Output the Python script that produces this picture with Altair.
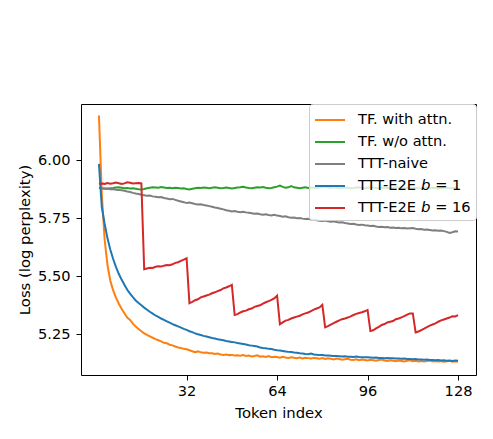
import altair as alt
import pandas as pd

tokens = list(range(1, 129))

names = ['TF. with attn.', 'TF. w/o attn.', 'TTT-naive', 'TTT-E2E 𝘣 = 1', 'TTT-E2E 𝘣 = 16']
colors = ['#ff7f0e', '#2ca02c', '#7f7f7f', '#1f77b4', '#d62728']

tf_attn = [
    6.194, 5.855, 5.660, 5.550, 5.482, 5.440, 5.408, 5.383, 5.360, 5.341,
    5.322, 5.312, 5.296, 5.283, 5.273, 5.263, 5.254, 5.247, 5.241, 5.235,
    5.229, 5.224, 5.219, 5.213, 5.211, 5.205, 5.202, 5.197, 5.193, 5.191,
    5.187, 5.185, 5.181, 5.177, 5.173, 5.176, 5.172, 5.170, 5.171, 5.168,
    5.168, 5.165, 5.167, 5.163, 5.161, 5.163, 5.160, 5.161, 5.158, 5.159,
    5.157, 5.160, 5.156, 5.158, 5.154, 5.156, 5.159, 5.153, 5.155, 5.152,
    5.156, 5.151, 5.153, 5.152, 5.149, 5.153, 5.150, 5.148, 5.151, 5.149,
    5.147, 5.150, 5.146, 5.149, 5.147, 5.145, 5.148, 5.146, 5.144, 5.147,
    5.143, 5.146, 5.144, 5.141, 5.145, 5.143, 5.140, 5.142, 5.144, 5.140,
    5.139, 5.142, 5.138, 5.141, 5.139, 5.137, 5.140, 5.138, 5.136, 5.139,
    5.141, 5.137, 5.135, 5.138, 5.136, 5.134, 5.137, 5.135, 5.133, 5.136,
    5.138, 5.134, 5.136, 5.133, 5.135, 5.132, 5.134, 5.137, 5.133, 5.135,
    5.132, 5.134, 5.131, 5.133, 5.135, 5.131, 5.133, 5.132,
]

tf_no_attn = [
    5.882, 5.880, 5.879, 5.878, 5.880, 5.881, 5.883, 5.884, 5.882, 5.880,
    5.881, 5.879, 5.880, 5.878, 5.876, 5.875, 5.877, 5.880, 5.882, 5.884,
    5.883, 5.882, 5.885, 5.883, 5.881, 5.882, 5.880, 5.882, 5.881, 5.879,
    5.880, 5.877, 5.875, 5.878, 5.880, 5.882, 5.881, 5.883, 5.882, 5.880,
    5.882, 5.884, 5.882, 5.880, 5.881, 5.883, 5.881, 5.879, 5.881, 5.883,
    5.884, 5.886, 5.883, 5.881, 5.880, 5.882, 5.884, 5.883, 5.885, 5.882,
    5.880, 5.881, 5.884, 5.887, 5.892, 5.886, 5.882, 5.884, 5.889, 5.884,
    5.882, 5.880, 5.882, 5.884, 5.881, 5.883, 5.882, 5.880, 5.883, 5.885,
    5.886, 5.883, 5.881, 5.884, 5.882, 5.880, 5.881, 5.883, 5.882, 5.880,
    5.881, 5.883, 5.884, 5.882, 5.880, 5.882, 5.884, 5.883, 5.881, 5.880,
    5.882, 5.883, 5.881, 5.879, 5.882, 5.884, 5.883, 5.881, 5.880, 5.882,
    5.883, 5.881, 5.882, 5.880, 5.881, 5.883, 5.882, 5.880, 5.882, 5.881,
    5.879, 5.881, 5.883, 5.882, 5.880, 5.881, 5.882, 5.881,
]

ttt_naive = [
    5.881, 5.880, 5.878, 5.879, 5.876, 5.877, 5.874, 5.873, 5.871, 5.869,
    5.866, 5.864, 5.860, 5.857, 5.855, 5.852, 5.850, 5.848, 5.849, 5.845,
    5.843, 5.841, 5.842, 5.838, 5.836, 5.833, 5.834, 5.830, 5.826, 5.823,
    5.820, 5.816, 5.818, 5.815, 5.812, 5.810, 5.811, 5.808, 5.806, 5.803,
    5.800, 5.797, 5.795, 5.792, 5.789, 5.785, 5.783, 5.780, 5.782, 5.779,
    5.777, 5.779, 5.776, 5.774, 5.772, 5.770, 5.771, 5.768, 5.766, 5.768,
    5.765, 5.763, 5.766, 5.762, 5.760, 5.757, 5.759, 5.755, 5.753, 5.754,
    5.751, 5.752, 5.749, 5.747, 5.748, 5.745, 5.744, 5.742, 5.740, 5.739,
    5.741, 5.738, 5.736, 5.737, 5.734, 5.732, 5.733, 5.730, 5.728, 5.726,
    5.727, 5.724, 5.722, 5.723, 5.720, 5.719, 5.717, 5.718, 5.715, 5.713,
    5.714, 5.712, 5.713, 5.710, 5.711, 5.709, 5.710, 5.707, 5.708, 5.706,
    5.707, 5.708, 5.705, 5.703, 5.704, 5.701, 5.702, 5.700, 5.698, 5.699,
    5.697, 5.698, 5.695, 5.692, 5.687, 5.690, 5.694, 5.693,
]

e2e_b1 = [
    5.985, 5.800, 5.727, 5.665, 5.616, 5.576, 5.541, 5.511, 5.486, 5.464,
    5.442, 5.425, 5.410, 5.396, 5.385, 5.375, 5.365, 5.356, 5.347, 5.339,
    5.331, 5.325, 5.318, 5.312, 5.306, 5.300, 5.294, 5.289, 5.284, 5.279,
    5.273, 5.269, 5.263, 5.259, 5.254, 5.250, 5.247, 5.243, 5.240, 5.237,
    5.234, 5.232, 5.228, 5.226, 5.224, 5.221, 5.219, 5.217, 5.215, 5.212,
    5.210, 5.208, 5.206, 5.203, 5.201, 5.199, 5.197, 5.193, 5.191, 5.190,
    5.187, 5.186, 5.183, 5.181, 5.180, 5.178, 5.176, 5.174, 5.173, 5.171,
    5.170, 5.168, 5.167, 5.165, 5.164, 5.167, 5.163, 5.162, 5.160, 5.160,
    5.158, 5.158, 5.157, 5.156, 5.156, 5.155, 5.154, 5.155, 5.153, 5.153,
    5.152, 5.154, 5.152, 5.151, 5.151, 5.151, 5.150, 5.149, 5.150, 5.148,
    5.148, 5.147, 5.148, 5.146, 5.146, 5.145, 5.145, 5.144, 5.145, 5.143,
    5.143, 5.142, 5.143, 5.141, 5.141, 5.140, 5.141, 5.139, 5.139, 5.138,
    5.139, 5.137, 5.138, 5.136, 5.137, 5.135, 5.137, 5.136,
]

e2e_b16 = [
    5.899, 5.901, 5.899, 5.903, 5.900, 5.902, 5.905, 5.902, 5.899, 5.901,
    5.906, 5.904, 5.901, 5.902, 5.903, 5.901,
    5.531, 5.534, 5.537, 5.536, 5.541, 5.543, 5.542, 5.546, 5.549, 5.548,
    5.552, 5.558, 5.561, 5.567, 5.572, 5.578,
    5.384, 5.390, 5.397, 5.401, 5.409, 5.413, 5.417, 5.421, 5.427, 5.431,
    5.436, 5.441, 5.448, 5.452, 5.457, 5.463,
    5.333, 5.337, 5.344, 5.349, 5.352, 5.358, 5.361, 5.368, 5.372, 5.375,
    5.382, 5.388, 5.393, 5.398, 5.405, 5.417,
    5.293, 5.301, 5.309, 5.312, 5.318, 5.322, 5.326, 5.330, 5.336, 5.340,
    5.344, 5.350, 5.356, 5.361, 5.366, 5.377,
    5.280, 5.285, 5.292, 5.298, 5.304, 5.310, 5.315, 5.318, 5.322, 5.327,
    5.333, 5.338, 5.342, 5.345, 5.349, 5.355,
    5.264, 5.267, 5.275, 5.282, 5.290, 5.294, 5.301, 5.304, 5.307, 5.315,
    5.318, 5.323, 5.328, 5.335, 5.340, 5.340,
    5.258, 5.262, 5.268, 5.274, 5.281, 5.287, 5.292, 5.297, 5.304, 5.310,
    5.314, 5.318, 5.322, 5.328, 5.327, 5.333,
]

series = [tf_attn, tf_no_attn, ttt_naive, e2e_b1, e2e_b16]
frames = [pd.DataFrame({'token': tokens, 'loss': vals, 'series': name})
          for name, vals in zip(names, series)]
df = pd.concat(frames, ignore_index=True)

font = 'DejaVu Sans'

base = alt.Chart(df).mark_line(strokeWidth=2).encode(
    x=alt.X('token:Q',
            scale=alt.Scale(domain=[-5.35, 134.35], nice=False, zero=False),
            axis=alt.Axis(values=[32, 64, 96, 128], title='Token index',
                          labelPadding=3, titlePadding=8)),
    y=alt.Y('loss:Q',
            scale=alt.Scale(domain=[5.0742, 6.2436], nice=False, zero=False),
            axis=alt.Axis(values=[5.25, 5.5, 5.75, 6.0], format='.2f',
                          title='Loss (log perplexity)', labelPadding=6, titlePadding=5)),
    color=alt.Color('series:N', scale=alt.Scale(domain=names, range=colors),
                    legend=alt.Legend(title=None, orient='top-right', offset=0)),
)

# draw in legend order so the red line ends up on top
chart = alt.layer(*[base.transform_filter(alt.datum.series == n) for n in names]).properties(
    width=395,
    height=271,
    autosize=alt.AutoSizeParams(type='none'),
    padding={'left': 73, 'top': 96, 'right': 8, 'bottom': 50},
).configure_view(
    stroke='black', strokeWidth=1
).configure_axis(
    domain=False, grid=False, tickColor='black', tickSize=5, tickWidth=1,
    labelFont=font, labelFontSize=14.6, labelColor='black',
    titleFont=font, titleFontSize=14.8, titleFontWeight='normal', titleColor='black'
).configure_legend(
    fillColor='rgba(255,255,255,0.8)', strokeColor='#cccccc', cornerRadius=3,
    padding=5, symbolType='M-1.5,0H1.5', symbolStrokeWidth=2, symbolSize=400,
    symbolOffset=5, labelFont=font, labelFontSize=14.6, labelColor='black',
    labelOffset=17, labelLimit=0, rowPadding=4
)

chart.save('out.html', embed_options={'renderer': 'svg', 'actions': False})
